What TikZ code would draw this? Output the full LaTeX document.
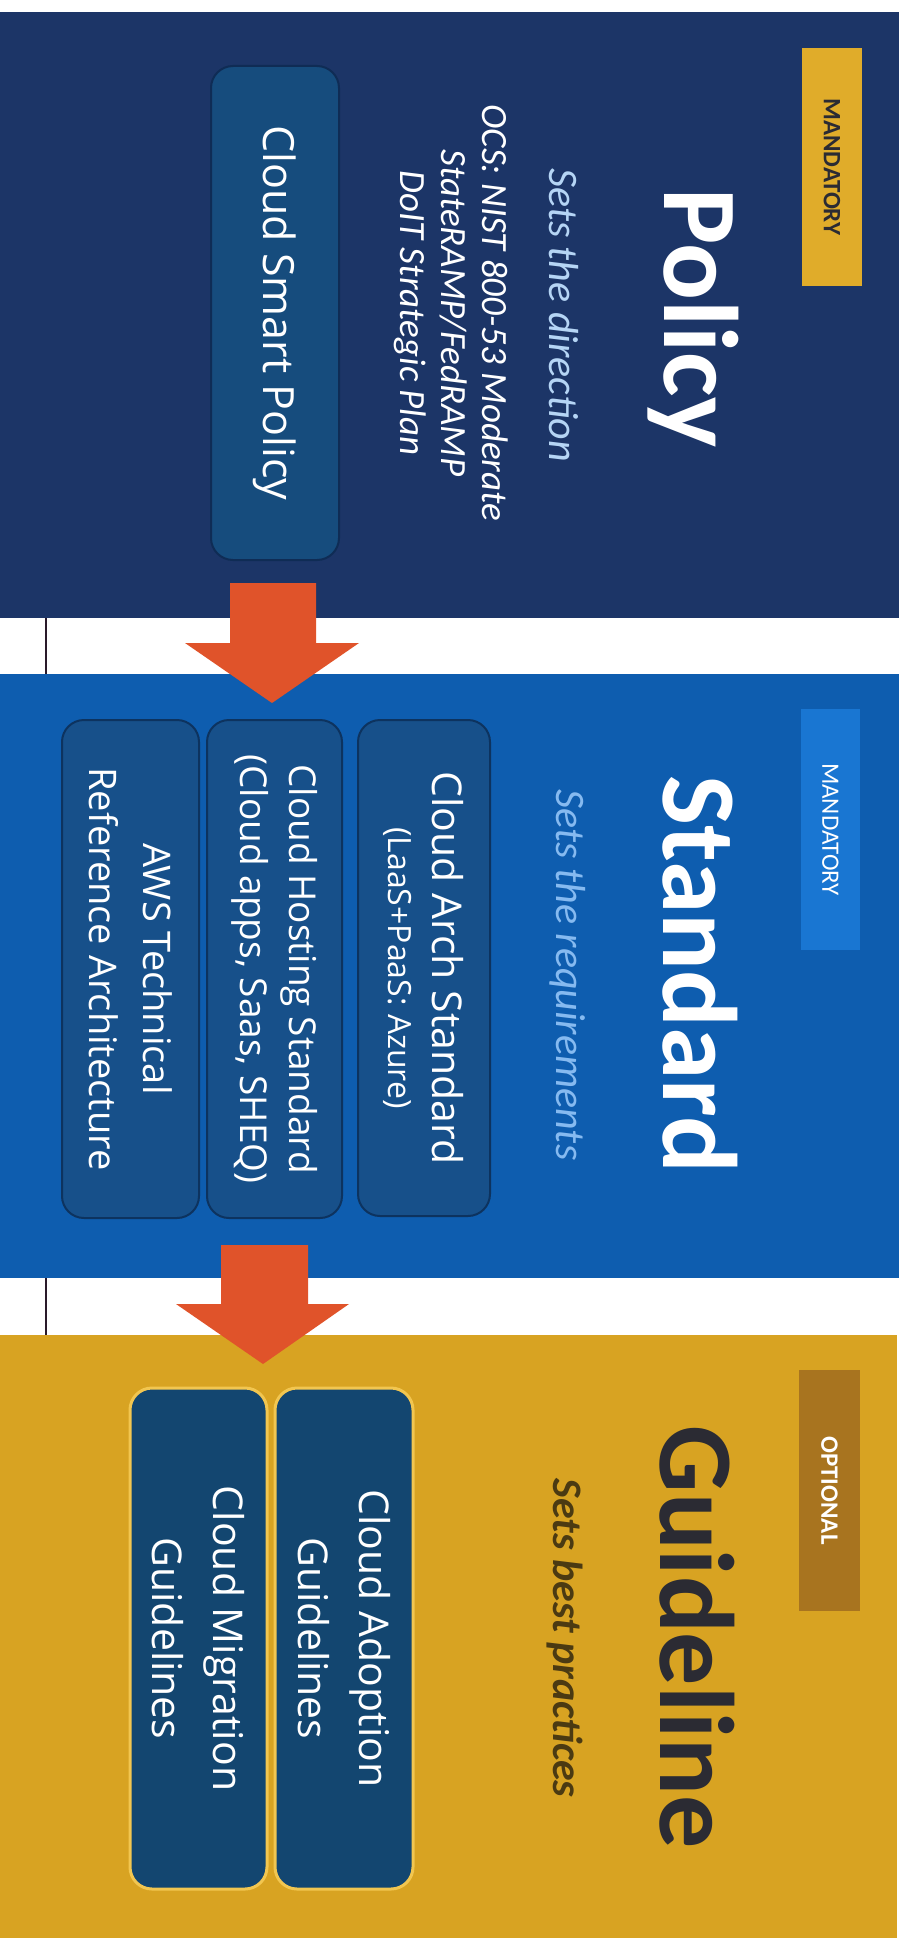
\documentclass[tikz,border=0pt]{standalone}
\usepackage{fontspec}
\setmainfont{Carlito}
\newfontfamily\boxfont{Open Sans}
\usetikzlibrary{calc}

\definecolor{polnavy}{HTML}{1C3567}
\definecolor{polbox}{HTML}{164C7D}
\definecolor{polboxline}{HTML}{0F2C55}
\definecolor{stdblue}{HTML}{0E5DAF}
\definecolor{stdtag}{HTML}{1976D2}
\definecolor{stdbox}{HTML}{17508A}
\definecolor{stdboxline}{HTML}{0D335F}
\definecolor{guigold}{HTML}{D8A322}
\definecolor{guitag}{HTML}{A8741F}
\definecolor{guibox}{HTML}{134670}
\definecolor{guiboxline}{HTML}{F2C650}
\definecolor{mandgold}{HTML}{E0AC2A}
\definecolor{arrowred}{HTML}{E0532A}
\definecolor{dirtext}{HTML}{B5D5F5}
\definecolor{reqtext}{HTML}{86BAF0}
\definecolor{besttext}{HTML}{4B3A12}
\definecolor{darkink}{HTML}{2B2B33}
\definecolor{linkdark}{HTML}{2A1A2A}

\tikzset{
	panel/.style={inner sep=0pt, minimum height=899pt},
	tag/.style={inner sep=0pt, minimum height=60pt, minimum width=240pt, font=\fontsize{25}{30}\selectfont},
	title/.style={anchor=base, inner sep=0pt, font=\fontsize{106}{110}\selectfont\bfseries},
	subtitle/.style={anchor=base, inner sep=0pt, font=\fontsize{42}{46}\selectfont\itshape},
	card/.style={rounded corners=22pt, line width=2pt, inner sep=0pt, text=white, align=center},
	linkline/.style={line width=2pt, draw=linkdark}
}

\begin{document}
\begin{tikzpicture}[x=1pt, y=1pt, rotate=-90, transform shape]

	\useasboundingbox (0,0) rectangle (1948,905);
	\fill[white] (0,0) rectangle (1948,905);

	\node[panel, fill=polnavy, minimum width=606pt] (pol) at (315,449.5) {};
	\node[panel, fill=stdblue, minimum width=604pt] (std) at (976,449.5) {};
	\node[panel, fill=guigold, minimum width=603pt, minimum height=897pt] (gui) at (1636.5,448.5) {};

	\draw[linkline] ($(pol.south east)+(0,46)$) -- ($(std.south west)+(0,46)$);
	\draw[linkline] ($(std.south east)+(0,46)$) -- ($(gui.south west)+(0,46)$);

	\node[tag, fill=mandgold, text=darkink, font=\fontsize{25}{30}\selectfont\bfseries, minimum width=238pt] (poltag) at (167,832) {MANDATORY};
	\node[tag, fill=stdtag, text=white, minimum width=241pt, minimum height=59pt] (stdtag) at (829.5,830.5) {MANDATORY};
	\node[tag, fill=guitag, text=white, font=\fontsize{25}{30}\selectfont\bfseries, minimum width=241pt, minimum height=61pt] (guitag) at (1490.5,829.5) {OPTIONAL};

	\node[title, text=white] (poltitle) at (318,664) {Policy};
	\node[title, text=white] (stdtitle) at (974,663) {Standard};
	\node[title, text=darkink] (guititle) at (1637,660) {Guideline};

	\node[subtitle, text=dirtext] (polsub) at (315,549) {Sets the direction};
	\node[subtitle, text=reqtext] (stdsub) at (975,556) {Sets the requirements};
	\node[subtitle, text=besttext, font=\fontsize{42}{46}\selectfont\itshape\bfseries] (guisub) at (1638,553) {Sets best practices};

	\node[align=center, text=white, inner sep=0pt, font=\fontsize{37}{41}\selectfont\itshape] (ocs) at (313,451)
		{OCS: NIST 800-53 Moderate\\StateRAMP/FedRAMP\\DoIT Strategic Plan};

	\node[card, fill=polbox, draw=polboxline, minimum width=494pt, minimum height=128pt, font=\boxfont\fontsize{43}{50}\selectfont] (smart) at (313,275) {Cloud Smart Policy};

	\node[card, fill=stdbox, draw=stdboxline, minimum width=496pt, minimum height=132pt, font=\boxfont\fontsize{41}{44}\selectfont] (arch) at (968,424)
		{Cloud Arch Standard\\{\fontsize{32}{44}\selectfont (LaaS+PaaS: Azure)}};
	\node[card, fill=stdbox, draw=stdboxline, minimum width=498pt, minimum height=135pt, font=\boxfont\fontsize{37}{49}\selectfont] (host) at (969,274.5)
		{Cloud Hosting Standard\\(Cloud apps, Saas, SHEQ)};
	\node[card, fill=stdbox, draw=stdboxline, minimum width=498pt, minimum height=137pt, font=\boxfont\fontsize{38}{54}\selectfont] (aws) at (969,130.5)
		{AWS Technical\\Reference Architecture};

	\node[card, fill=guibox, draw=guiboxline, line width=3pt, minimum width=501pt, minimum height=138pt, font=\boxfont\fontsize{41}{61}\selectfont] (adopt) at (1638.5,344)
		{Cloud Adoption\\Guidelines};
	\node[card, fill=guibox, draw=guiboxline, line width=3pt, minimum width=501pt, minimum height=137pt, font=\boxfont\fontsize{41}{61}\selectfont] (migr) at (1638.5,198.5)
		{Cloud Migration\\Guidelines};

	\fill[arrowred] (583,230) -- (643,230) -- (643,185) -- (703,272) -- (643,359) -- (643,316) -- (583,316) -- cycle;
	\fill[arrowred] (1245,221) -- (1304,221) -- (1304,176) -- (1364,263) -- (1304,349) -- (1304,308) -- (1245,308) -- cycle;

\end{tikzpicture}
\end{document}
